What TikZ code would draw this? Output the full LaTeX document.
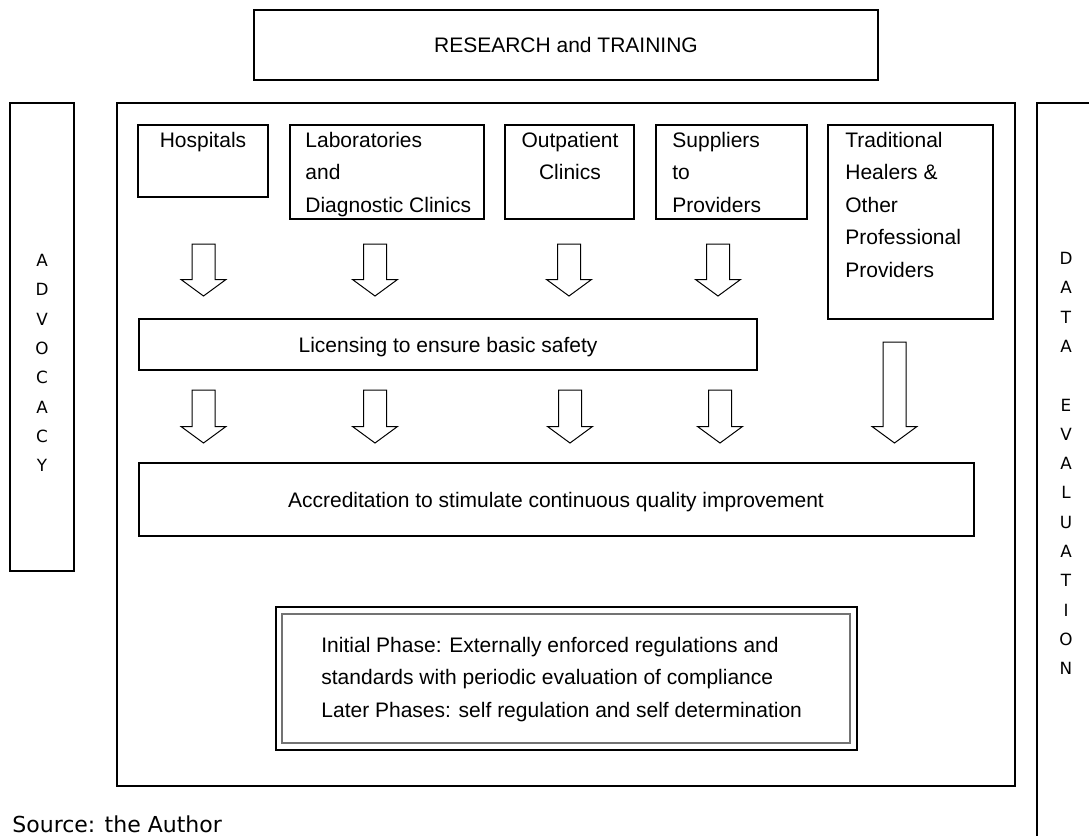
\documentclass[tikz,border=0pt]{standalone}
\usepackage{fontspec}
\setmainfont{Liberation Sans}
\newfontfamily\dvs{DejaVu Sans}
\usetikzlibrary{fit}
\newcommand\blockarr[3]{%
  \draw[blockarrow] (#1-11.5,#2) -- (#1+11.5,#2) -- (#1+11.5,#3-16.5) -- (#1+22.5,#3-16.5)
    -- (#1,#3) -- (#1-22.5,#3-16.5) -- (#1-11.5,#3-16.5) -- cycle;}
\begin{document}
\begin{tikzpicture}[x=0.5pt,y=-0.5pt,
  box/.style={draw=black, line width=0.55pt, inner sep=0pt},
  txt/.style={inner sep=0pt, font=\fontsize{10.5}{16.25}\selectfont},
  side/.style={inner sep=0pt, align=center, font=\dvs\fontsize{8.4}{14.65}\selectfont},
  blockarrow/.style={draw=black, line width=0.5pt, fill=white}]
\useasboundingbox (0,0) rectangle (1089,836);
\clip (0,0) rectangle (1089,836);

% frame boxes
\node[box, fit={(254,10) (878,80)}] (research) {};
\node[txt] at (research.center) {RESEARCH and TRAINING};

\node[box, fit={(10,103) (74,571)}] (advocacy) {};
\node[side, anchor=north] at (42,253.9) {A\\D\\V\\O\\C\\A\\C\\Y};

\node[box, fit={(117,103) (1015,786)}] (main) {};

\node[box, fit={(1037,103) (1130,900)}] (data) {};
\node[side, anchor=north] at (1066,251.9) {D\\A\\T\\A\\\mbox{}\\E\\V\\A\\L\\U\\A\\T\\I\\O\\N};

% provider boxes
\node[box, fit={(138,125) (268,197)}] (hosp) {};
\node[txt, anchor=base] at (203,147) {Hospitals};

\node[box, fit={(290,125) (484,219)}] (labs) {};
\node[txt, align=left, anchor=north west] at (305,131.7) {Laboratories\\and\\Diagnostic Clinics};

\node[box, fit={(505,125) (634,219)}] (outp) {};
\node[txt, align=center, anchor=north] at (570,131.5) {Outpatient\\Clinics};

\node[box, fit={(656,125) (807,219)}] (supp) {};
\node[txt, align=left, anchor=north west] at (672,131.7) {Suppliers\\to\\Providers};

\node[box, fit={(828,125) (993,319)}] (trad) {};
\node[txt, align=left, anchor=north west] at (845,131.7) {Traditional\\Healers \&\\Other\\Professional\\Providers};

% licensing and accreditation
\node[box, fit={(139,319) (757,370)}] (lic) {};
\node[txt, anchor=base] at (448,352) {Licensing to ensure basic safety};

\node[box, fit={(139,463) (974,536)}] (acc) {};
\node[txt, anchor=base] at (556,507) {Accreditation to stimulate continuous quality improvement};

% arrows row 1
\blockarr{203.5}{244}{296}
\blockarr{375}{244}{296}
\blockarr{569}{244}{296}
\blockarr{718}{244}{296}
% arrows row 2
\blockarr{203.5}{390}{443}
\blockarr{375}{390}{443}
\blockarr{570}{390}{443}
\blockarr{720}{390}{443}
\blockarr{894.5}{342}{443}

% phase box
\node[box, fit={(276,607) (857,750)}] (phaseout) {};
\node[draw=black!55, line width=0.8pt, inner sep=0pt, fit={(282,614) (850,743)}] (phasein) {};
\node[txt, align=left, anchor=north west] at (321,636.7) {Initial Phase: Externally enforced regulations and\\standards with periodic evaluation of compliance\\Later Phases: self regulation and self determination};

% source
\node[inner sep=0pt, anchor=base west, font=\dvs\fontsize{11}{13}\selectfont] at (12,832) {Source: the Author};
\end{tikzpicture}
\end{document}
